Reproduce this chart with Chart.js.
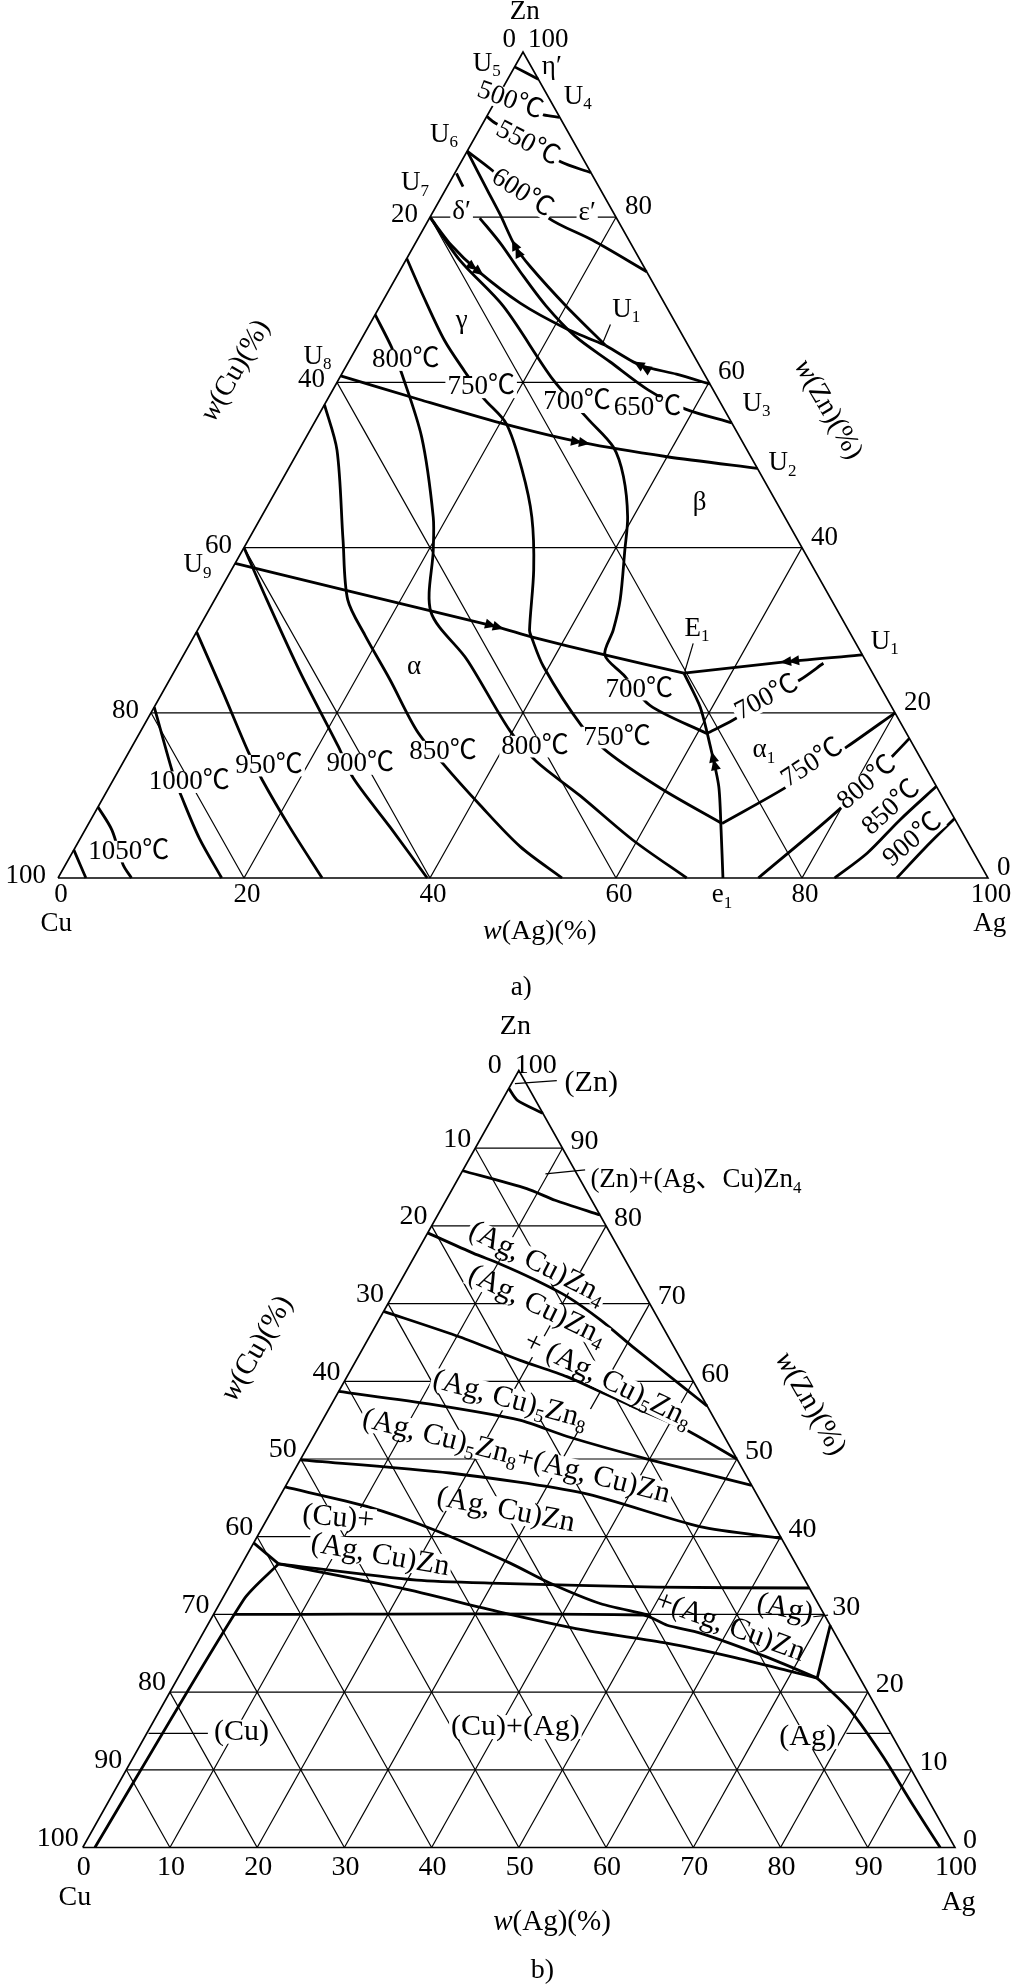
<!DOCTYPE html>
<html>
<head>
<meta charset="utf-8">
<title>Cu-Ag-Zn</title>
<script src="https://cdn.jsdelivr.net/npm/chart.js@4.4.1/dist/chart.umd.min.js"></script>
<style>
  body { margin: 0; background: #fff; }
  canvas { position: absolute; left: 0; }
  #chartA { top: 0; }
  #chartB { top: 1000px; }
</style>
</head>
<body>
<canvas id="chartA" width="1013" height="1000"></canvas>
<canvas id="chartB" width="1013" height="986"></canvas>
<script>
// every point is [w(Ag), w(Zn)] in %, w(Cu) is what is left

// ---- a) liquidus projection ----
const ticksA = [0, 20, 40, 60, 80, 100];

const iso1083 = [[0, 3.4], [3, 0]];
const iso1050 = [[0, 8.6], [2.9, 5.8], [6.2, 1.6], [7.9, 0]];
const iso1000 = [[0, 20.7], [6.3, 12.3], [8.4, 9.8], [12.8, 4.8], [17.6, 0]];
const iso950 = [[0, 29.8], [6.4, 22.6], [12.8, 15.3], [16, 11.9], [21.9, 6.1], [28.4, 0]];
const iso900 = [[0, 40], [5.6, 33.7], [13.6, 24.9], [22.2, 15.9], [25.7, 12.1], [32.7, 6.1], [39.7, 0]];
const iso850 = [[0, 57.3], [4.1, 51.8], [10.2, 40.9], [14.3, 33.7], [18.3, 29.4], [23.7, 24], [29.6, 17.9],
  [34.4, 13.9], [41, 8.8], [47.8, 3.8], [54.2, 0]];
const iso800 = [[0, 68.2], [3.7, 64.3], [6.4, 61.1], [12.4, 53.4], [18.5, 43.7], [20.5, 39.7], [24, 32.2],
  [30.8, 26.4], [39.6, 17.9], [44.4, 14.1], [51.1, 10], [59.5, 4.6], [67.6, 0]];
const iso750 = [[0, 75], [4.1, 70.4], [9, 65.1], [13.1, 61.3], [16.7, 58.1], [20.7, 55], [25.2, 49.4],
  [29.1, 43.7], [32.5, 37.3], [35.7, 30], [36.3, 29.2], [39.4, 25.6], [47, 18.5], [51.4, 15.3],
  [59.3, 10.9], [68.1, 6.6]];
const iso750r = [[68.1, 6.6], [72.8, 11], [76.9, 15.9], [80, 20]];
const iso700 = [[0, 80], [5.8, 74.8], [13.3, 69.2], [23.1, 60.3], [29.3, 55.5], [33.6, 52.2], [36.5, 48.6],
  [39.4, 43.7], [41.1, 39.7], [43.6, 33.7], [44.7, 30], [45.3, 27], [48.5, 24.6], [53.2, 20.9], [61, 17.5]];
const iso700r = [[61, 17.5], [63, 19.1], [67.8, 24], [69.3, 26]];
const iso650 = [[5.4, 79.9], [9.2, 76.8], [13, 73.4], [17.8, 69.3], [22.8, 65.6], [28.1, 62.5],
  [33.9, 59.1], [39, 56.8], [44.9, 55.1]];
const iso600 = [[0, 88], [3.5, 85.9], [12.8, 79.9], [18.9, 77.2], [26.6, 73.4]];
const iso550 = [[0, 92.2], [1.3, 91.4], [10.7, 86.7], [14.6, 85.4]];
const iso500 = [[3.7, 93], [6, 92.4], [7.9, 92.1]];
const iso800a1 = [[75.3, 0], [79.9, 8.4], [82.4, 14.9], [83.1, 16.9]];
const iso850a1 = [[83.5, 0], [85.5, 3], [87, 7], [88.9, 11.1]];
const iso900a1 = [[90.2, 0], [91.4, 3.6], [92.8, 7.2]];
const etaLine = [[0, 98.2], [3.3, 96.7]];
const u7Stub = [[0.2, 85.3], [1.7, 83.7]];

// monovariant lines
const u8u2 = [[0, 60.8], [10, 57.9], [20, 55.1], [30.1, 52.7], [40, 51], [50.4, 49.6]];
const u9e1 = [[0, 38.1], [12.8, 35], [32, 30.4], [36.3, 29.2], [45.3, 27], [54.9, 24.8]];
const u1e1 = [[73, 27], [65.3, 26.2], [54.9, 24.8]];
const e1e1 = [[54.9, 24.8], [58.7, 20.7], [62.2, 15.9], [65.5, 11.1], [68.4, 5.8], [71.5, 0]];
const toU1 = [[0, 80], [4, 76.6], [8.4, 73.5], [14.9, 69.6], [21.2, 66.6], [26.6, 64.5]];
const u1u6 = [[26.6, 64.5], [20.2, 69.1], [13.8, 74], [10.9, 76.5], [7.4, 80.3], [4.5, 83.3], [0, 88]];
const u3u1 = [[40.2, 59.8], [36, 61], [31.5, 62.1], [26.6, 64.5]];
const leadersA = [[[54.1, 28.4], [54.9, 25]], [[25.9, 67], [26.2, 64.7]]];

// [arrow position, point it runs toward]
const arrowsA = [
  [[30.1, 52.7], [40, 51]],
  [[32, 30.4], [36.3, 29.2]],
  [[65.3, 26.2], [54.9, 24.8]],
  [[63.2, 14.5], [62.2, 15.9]],
  [[8.4, 73.5], [14.9, 69.6]],
  [[10.9, 76.5], [7.4, 80.3]],
  [[31.5, 62.1], [26.6, 64.5]]
];

// ---- b) isothermal section ----
const ticksB = [0, 10, 20, 30, 40, 50, 60, 70, 80, 90, 100];

const bZnSolvus = [[0, 97.7], [1.7, 96.2], [5.5, 94.5]];
const bZnEps = [[0, 87.1], [8.5, 84.8], [12.5, 83.3], [18.6, 81.4]];
const bEps = [[0, 79.1], [6.5, 76.5], [10.3, 75.1], [15, 73.2], [20.1, 70.9], [25.4, 67.9], [30.9, 64.4],
  [39.8, 58.9], [43.2, 56.8]];
const bEpsGam = [[0, 69], [10.4, 65.7], [18.8, 62.7], [25.2, 60.6], [34.8, 56.7], [42.4, 53.7], [50, 50]];
const bGam = [[0, 58.7], [11.7, 57], [22.6, 55], [29.1, 52.9], [40.1, 49.9], [53.4, 46.6]];
const bGamBeta = [[0, 49.9], [18, 48.2], [34.6, 45.6], [50.1, 41.3], [60.2, 39.8]];
const bBeta = [[0, 46.4], [10.6, 43.9], [19.8, 40.9], [30.7, 36.6], [36.6, 34], [43.6, 31.4], [50.1, 29.9]];
const bCuBeta = [[0, 39.2], [4.2, 36.5]];
const bCuSolvus = [[4.2, 36.5], [2.5, 31.9], [1.4, 0]];
const bTieUpper = [[4.2, 36.5], [21.1, 34.4], [30.8, 34], [49.1, 33.5], [66.6, 33.4]];
const bTieLower = [[4.2, 36.5], [19.7, 33.4], [32.7, 30.3], [43.4, 28], [53.8, 26.3], [62.3, 24.5],
  [70.1, 22.6], [73.3, 21.8]];
const bZn30 = [[2.4, 30], [49.3, 29.9], [52.7, 28.6], [57, 27.6], [66.2, 24.5], [73.3, 21.8]];
const bAgBeta = [[73.3, 21.8], [71.4, 28.6]];
const bAgSolvus = [[73.3, 21.8], [74.9, 20.7], [79.1, 17.7], [85.9, 11.7], [92.2, 5.7], [98.3, 0]];
const leadersB = [
  [[0.4, 98.3], [5, 98.7]],
  [[9.7, 86.7], [14, 87.2]],
  [[0.2, 14.7], [7, 14.7]],
  [[68.9, 29.7], [70.5, 29.9]],
  [[80.2, 14.7], [85.2, 14.7]]
];

// text: [text, x, y, rotation, align, box, size]; x/y are the scale values (x = Ag + Zn/2, y = Zn)
// "_c" is a subscript, "~c" is italic
const labelsA = [
  ['Zn', 50.2, 104.8], ['U_5', 46.1, 98.6], ['η′', 53.1, 98.2], ['U_4', 55.9, 94.6],
  ['500℃', 48.6, 94.1, 20], ['550℃', 50.5, 88.9, 28], ['U_6', 41.5, 90], ['600℃', 49.9, 82.9, 33],
  ['U_7', 38.4, 84.1], ['δ′', 43.4, 80.6], ['ε′', 56.9, 80.5], ['U_1', 61.1, 68.8], ['γ', 43.4, 67.4],
  ['800℃', 37.4, 62.7], ['750℃', 45.5, 59.4], ['700℃', 55.8, 57.6], ['650℃', 63.4, 56.9],
  ['U_3', 75.1, 57.4], ['U_2', 77.9, 50.2], ['U_8', 27.9, 63.1], ['U_9', 15, 37.9], ['β', 69, 45.4],
  ['α', 38.3, 25.5], ['E_1', 68.7, 30.2], ['U_1', 88.9, 28.6], ['α_1', 75.9, 15.5],
  ['1050℃', 7.6, 3.2], ['1000℃', 14.1, 11.6], ['950℃', 22.7, 13.6], ['900℃', 32.5, 13.8],
  ['850℃', 41.4, 15.3], ['800℃', 51.3, 15.9], ['750℃', 60.1, 17], ['700℃', 62.5, 22.8],
  ['700℃', 76.2, 21.8, -28], ['750℃', 81.1, 13.9, -33], ['800℃', 87, 11.5, -40],
  ['850℃', 89.6, 8.5, -42], ['900℃', 91.9, 4.6, -40],
  ['e_1', 71.4, -2.1], ['Cu', -0.2, -5.5], ['Ag', 100.2, -5.6], ['~w(Ag)(%)', 51.8, -6.5, 0, 'center', true, 28],
  ['~w(Cu)(%)', 19.1, 61.4, -60, 'center', true, 28], ['~w(Zn)(%)', 82.8, 56.7, 60, 'center', true, 28],
  ['a)', 49.8, -13.3]
];
const labelsB = [
  ['Zn', 49.6, 105.6, 0, 'center', true, 28], ['(Zn)', 58.3, 98.4],
  ['(Zn)+(Ag、Cu)Zn_4', 58.2, 85.9, 0, 'left', true, 27],
  ['(Ag, Cu)Zn_4', 52.1, 75.2, 27], ['(Ag, Cu)Zn_4', 52.1, 69.7, 26], ['+ (Ag, Cu)_5Zn_8', 60.2, 60.1, 26],
  ['(Ag, Cu)_5Zn_8', 49, 57.6, 15], ['(Ag, Cu)_5Zn_8+(Ag, Cu)Zn', 49.7, 50.3, 14],
  ['(Ag, Cu)Zn', 48.5, 43.4, 11], ['(Cu)+', 29.3, 42.4, 5], ['(Ag, Cu)Zn', 34.1, 37.6, 10],
  ['(Ag)', 80.5, 30.7, 12, 'center', false], ['+(Ag, Cu)Zn', 74.2, 28.4, 20, 'center', false],
  ['(Cu)', 18.2, 14.9], ['(Cu)+(Ag)', 49.6, 15.5], ['(Ag)', 83.1, 14.2],
  ['Cu', -0.9, -6.4, 0, 'center', true, 28], ['Ag', 100.4, -7.1, 0, 'center', true, 28],
  ['~w(Ag)(%)', 53.8, -9.6, 0, 'center', true, 29],
  ['~w(Cu)(%)', 20, 64.2, -60, 'center', true, 29], ['~w(Zn)(%)', 83.4, 57.1, 60, 'center', true, 29],
  ['b)', 52.7, -15.8, 0, 'center', true, 28]
];

const FONT = '"Liberation Serif", "Times New Roman", "Noto Sans CJK SC", serif';

const toXY = p => ({ x: p[0] + p[1] / 2, y: p[1] });

function line(points, width, tension) {
  return {
    data: points.map(toXY),
    showLine: true,
    borderColor: '#000',
    borderWidth: width,
    pointRadius: 0,
    tension: tension || 0,
    fill: false,
    clip: false
  };
}

// triangle sides plus the three families of grid lines
function frame(ticks) {
  const sets = [];
  ticks.filter(v => v > 0 && v < 100).forEach(v => {
    sets.push(line([[0, v], [100 - v, v]], 1.2));
    sets.push(line([[v, 0], [v, 100 - v]], 1.2));
    sets.push(line([[0, 100 - v], [100 - v, 0]], 1.2));
  });
  sets.push(line([[0, 0], [100, 0], [0, 100], [0, 0]], 1.6));
  return sets;
}

function parseRich(str) {
  const segs = [];
  let i = 0;
  while (i < str.length) {
    if (str[i] === '_') { segs.push({ t: str[i + 1], sub: true }); i += 2; }
    else if (str[i] === '~') { segs.push({ t: str[i + 1], it: true }); i += 2; }
    else {
      let j = i;
      while (j < str.length && str[j] !== '_' && str[j] !== '~') j++;
      segs.push({ t: str.slice(i, j) });
      i = j;
    }
  }
  return segs;
}

function drawRich(ctx, str, px, py, rot, size, align, box) {
  const segs = parseRich(str);
  const fontFor = s => (s.it ? 'italic ' : '') + (s.sub ? Math.round(size * 0.62) : size) + 'px ' + FONT;
  let w = 0;
  segs.forEach(s => { ctx.font = fontFor(s); s.w = ctx.measureText(s.t).width; w += s.w; });
  ctx.save();
  ctx.translate(px, py);
  ctx.rotate(rot * Math.PI / 180);
  let x0 = align === 'left' ? 0 : align === 'right' ? -w : -w / 2;
  if (box) {
    ctx.fillStyle = '#fff';
    ctx.fillRect(x0 - 2, -size * 0.4, w + 4, size * 0.8);
  }
  ctx.fillStyle = '#000';
  ctx.textAlign = 'left';
  ctx.textBaseline = 'middle';
  segs.forEach(s => {
    ctx.font = fontFor(s);
    ctx.fillText(s.t, x0, s.sub ? size * 0.3 : 0);
    x0 += s.w;
  });
  ctx.restore();
}

const phasePlugin = {
  id: 'phase',
  afterDatasetsDraw(chart, args, o) {
    const ctx = chart.ctx;
    const xs = chart.scales.x, ys = chart.scales.y;
    const pix = p => [xs.getPixelForValue(p[0] + p[1] / 2), ys.getPixelForValue(p[1])];

    const t = o.ticks;
    t.values.forEach(v => {
      const b = pix([v, 0]);
      drawRich(ctx, String(v), b[0] + t.bottom[0], b[1] + t.bottom[1], 0, t.size, 'center', false);
      const l = pix([0, 100 - v]);
      const lo = v === 0 ? t.apexL : t.left;
      drawRich(ctx, String(v), l[0] + lo[0], l[1] + lo[1], 0, t.size, 'right', false);
      const r = pix([100 - v, v]);
      const ro = v === 100 ? t.apexR : t.right;
      drawRich(ctx, String(v), r[0] + ro[0], r[1] + ro[1], 0, t.size, 'left', false);
    });

    o.labels.forEach(([txt, x, y, rot = 0, align = 'center', box = true, size = o.size]) => {
      drawRich(ctx, txt, xs.getPixelForValue(x), ys.getPixelForValue(y), rot, size, align, box);
    });

    // double arrow heads on the monovariant lines
    ctx.fillStyle = '#000';
    (o.arrows || []).forEach(([at, to]) => {
      const p = pix(at), q = pix(to);
      let dx = q[0] - p[0], dy = q[1] - p[1];
      const len = Math.hypot(dx, dy);
      dx /= len; dy /= len;
      [0, 8].forEach(back => {
        const tx = p[0] + dx * (7 - back), ty = p[1] + dy * (7 - back);
        const bx = p[0] + dx * (-4 - back), by = p[1] + dy * (-4 - back);
        ctx.beginPath();
        ctx.moveTo(tx, ty);
        ctx.lineTo(bx - dy * 5, by + dx * 5);
        ctx.lineTo(bx + dy * 5, by - dx * 5);
        ctx.closePath();
        ctx.fill();
      });
    });
  }
};

// geo: pixel of the Cu corner (left, base), pixels per % along x and y
function build(id, geo, datasets, opts) {
  const canvas = document.getElementById(id);
  const W = canvas.width, H = canvas.height;
  return new Chart(canvas, {
    type: 'scatter',
    data: { datasets: datasets },
    options: {
      responsive: false,
      animation: false,
      devicePixelRatio: 1,
      events: [],
      layout: { padding: 0 },
      scales: {
        x: { type: 'linear', display: false, min: -geo.left / geo.sx, max: (W - geo.left) / geo.sx },
        y: { type: 'linear', display: false, min: -(H - geo.base) / geo.sy, max: geo.base / geo.sy }
      },
      plugins: { legend: { display: false }, tooltip: { enabled: false }, phase: opts }
    },
    plugins: [phasePlugin]
  });
}

const curvesA = [iso1083, iso1050, iso1000, iso950, iso900, iso850, iso800, iso750, iso750r, iso700,
  iso700r, iso650, iso600, iso550, iso500, iso800a1, iso850a1, iso900a1, etaLine, u7Stub];
const valleysA = [u8u2, u9e1, u1e1, e1e1, toU1, u1u6, u3u1];

build('chartA', { left: 58, base: 878, sx: 9.3, sy: 8.26 }, [
  ...frame(ticksA),
  ...curvesA.map(c => line(c, 2.8, 0.3)),
  ...valleysA.map(c => line(c, 2.8, 0.25)),
  ...leadersA.map(c => line(c, 1.2))
], {
  size: 27,
  labels: labelsA,
  arrows: arrowsA,
  ticks: { values: ticksA, size: 27, bottom: [3, 17], left: [-12, -2], right: [9, -10], apexL: [-7, -12], apexR: [5, -12] }
});

const curvesB = [bZnSolvus, bZnEps, bEps, bEpsGam, bGam, bGamBeta, bBeta, bCuBeta, bCuSolvus,
  bTieUpper, bTieLower, bZn30, bAgBeta, bAgSolvus];

build('chartB', { left: 82.7, base: 847.5, sx: 8.723, sy: 7.77 }, [
  ...frame(ticksB),
  ...curvesB.map(c => line(c, 2.8, 0.25)),
  ...leadersB.map(c => line(c, 1.2))
], {
  size: 30,
  labels: labelsB,
  ticks: { values: ticksB, size: 28, bottom: [1, 20], left: [-4, -9], right: [8, -7], apexL: [-17, -5], apexR: [-4, -5] }
});
</script>
</body>
</html>
